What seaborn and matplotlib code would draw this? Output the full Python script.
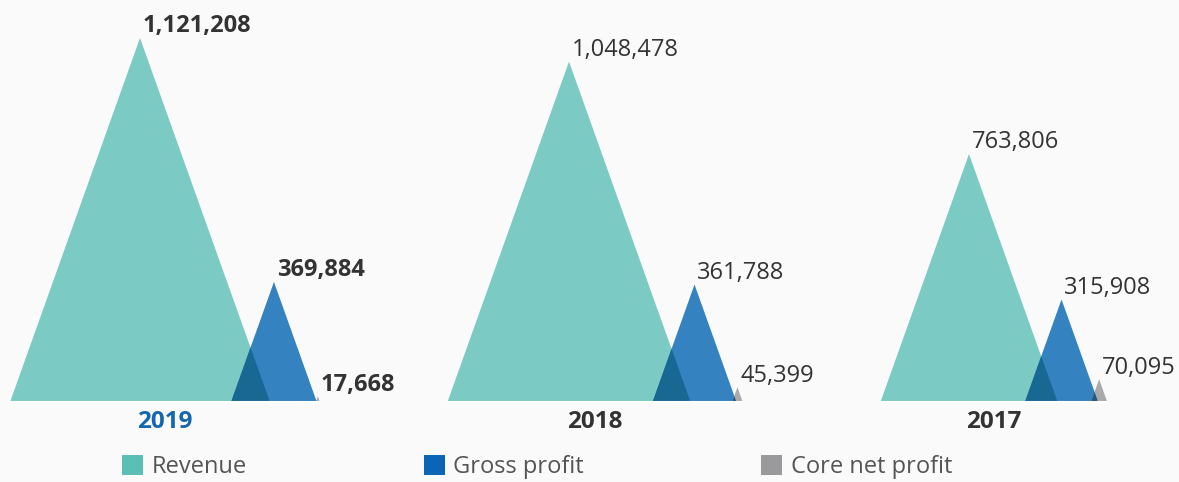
import matplotlib
matplotlib.use('Agg')
import matplotlib.pyplot as plt
import seaborn as sns
from matplotlib.patches import Patch

# ---------------- data ----------------
years = ['2019', '2018', '2017']
revenue = [1121208, 1048478, 763806]
gross_profit = [369884, 361788, 315908]
core_net_profit = [17668, 45399, 70095]
series_names = ['Revenue', 'Gross profit', 'Core net profit']
highlight_year = '2019'

# ---------------- style ----------------
sns.set_theme(style='white')
plt.rcParams['font.family'] = ['Open Sans', 'DejaVu Sans']

BG = '#fafafa'
tri_colors = ['#7bcac3', '#3482c0', '#aaaaaa']      # triangle fills
legend_colors = ['#5bbfb5', '#0a66b5', '#9a9a9c']   # legend swatches
text_dark = '#333333'
highlight_color = '#1565b0'


def multiply(c1, c2):
    a = matplotlib.colors.to_rgb(c1)
    b = matplotlib.colors.to_rgb(c2)
    return tuple(x * y for x, y in zip(a, b))


W, H = 1179, 482
fig = plt.figure(figsize=(W / 100, H / 100), dpi=100, facecolor=BG)
ax = fig.add_axes([0, 0, 1, 1])
ax.set_facecolor(BG)

ymax = max(revenue)
peak_px = 364          # height of the tallest triangle in pixels
base_px = 80           # baseline distance from the bottom of the figure
ax.set_xlim(0, W)
ax.set_ylim(-ymax * base_px / peak_px, ymax * (H - base_px) / peak_px)
ax.axis('off')

aspect = 0.714          # triangle width / height


def half_width(v):
    return v / ymax * peak_px * aspect / 2


group_anchor = [140, 569, 969]   # x of each group's revenue apex (layout)

for i, year in enumerate(years):
    vals = [revenue[i], gross_profit[i], core_net_profit[i]]
    xs = []
    x_rev = group_anchor[i]
    xs.append(x_rev)
    x_gp = x_rev + half_width(vals[0]) + 4
    xs.append(x_gp)
    x_cn = x_gp + half_width(vals[1]) + 1
    xs.append(x_cn)

    bold = (year == highlight_year)
    polys = []
    for j, (x, v) in enumerate(zip(xs, vals)):
        hw = half_width(v)
        p, = ax.fill([x - hw, x, x + hw], [0, v, 0], color=tri_colors[j], lw=0, zorder=2 + j)
        # multiply-blend overlap with previous triangles
        for k, q in enumerate(polys):
            o, = ax.fill([x - hw, x, x + hw], [0, v, 0],
                         color=multiply(tri_colors[j], tri_colors[k]), lw=0, zorder=2.5 + j)
            o.set_clip_path(q)
        polys.append(p)
        ax.annotate(f'{v:,}', xy=(x, v), xytext=(2, 4), textcoords='offset points',
                    ha='left', va='baseline', fontsize=17,
                    fontweight='bold' if bold else 'normal', color=text_dark, zorder=10)

    left = xs[0] - half_width(vals[0])
    right = xs[2] + half_width(vals[2])
    ax.plot([left, right], [0, 0], color='white', lw=1.5, zorder=9, solid_capstyle='butt')
    ax.annotate(year, xy=((left + right) / 2, 0), xytext=(0, -18.7), textcoords='offset points',
                ha='center', va='baseline', fontsize=17.5, fontweight='bold',
                color=highlight_color if bold else text_dark)

handles = [Patch(facecolor=c, edgecolor='none', label=n) for c, n in zip(legend_colors, series_names)]
leg = fig.legend(handles=handles, loc='lower left', bbox_to_anchor=(122 / W, 3 / H), ncol=3,
                 frameon=False, fontsize=17, handlelength=0.9, handleheight=0.9,
                 handletextpad=0.35, columnspacing=7.5, borderpad=0, borderaxespad=0)
for t in leg.get_texts():
    t.set_color('#555555')

fig.savefig('out.png', dpi=100, facecolor=BG)
